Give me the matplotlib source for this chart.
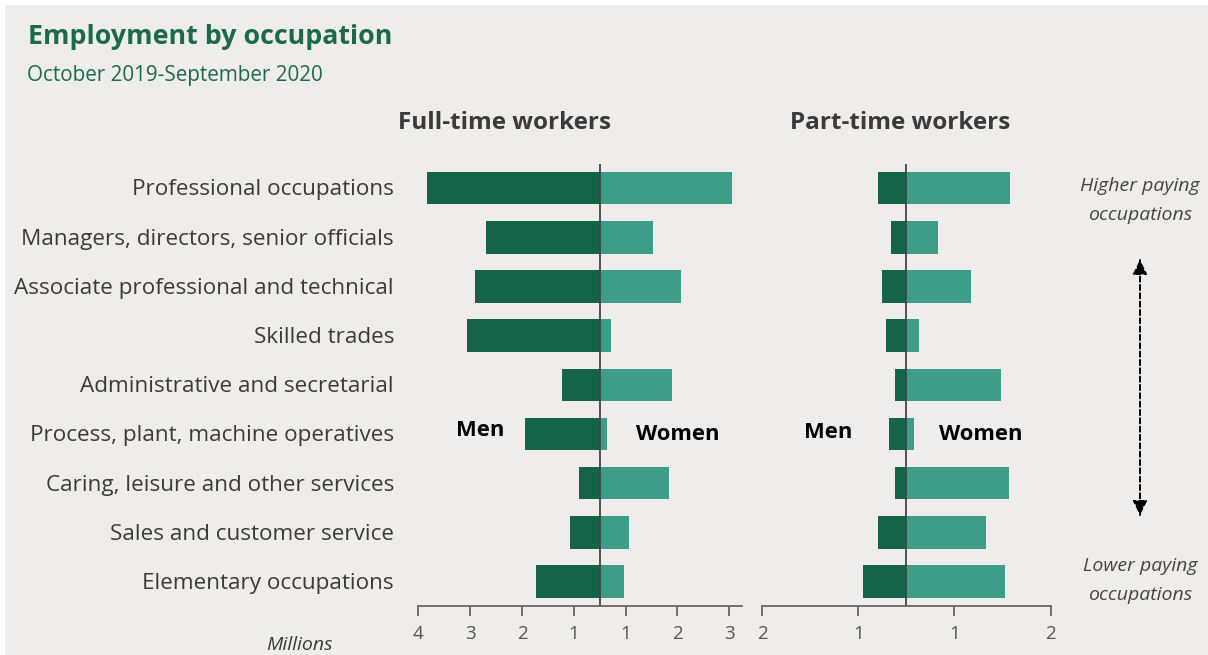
import numpy as np
import matplotlib.pyplot as plt
from matplotlib.patches import Rectangle, FancyArrowPatch

# data (millions)
occupations = ["Professional occupations", "Managers, directors, senior officials",
               "Associate professional and technical", "Skilled trades",
               "Administrative and secretarial", "Process, plant, machine operatives",
               "Caring, leisure and other services", "Sales and customer service",
               "Elementary occupations"]
ft_men = [3.33, 2.20, 2.41, 2.57, 0.72, 1.44, 0.41, 0.57, 1.23]
ft_women = [2.55, 1.02, 1.57, 0.22, 1.39, 0.14, 1.33, 0.57, 0.46]
pt_men = [0.29, 0.16, 0.25, 0.21, 0.12, 0.18, 0.12, 0.29, 0.45]
pt_women = [1.08, 0.33, 0.67, 0.13, 0.98, 0.08, 1.07, 0.83, 1.03]
ft_ticklabels = ["4", "3", "2", "1", "1", "2", "3"]
pt_ticklabels = ["2", "1", "1", "2"]

bg = "#efedeb"
men_col = "#156349"
women_col = "#3e9d88"
green_txt = "#1b6a4b"
grey_txt = "#3a3a3a"

plt.rcParams['font.family'] = ['Open Sans', 'DejaVu Sans']

W, H = 1208, 655
fig = plt.figure(figsize=(W / 100, H / 100), dpi=100)
fig.patch.set_facecolor("white")
fig.patches.append(Rectangle((5 / W, 0), 1, 1 - 5 / H, transform=fig.transFigure,
                             facecolor=bg, edgecolor="none", zorder=-10))


def fx(px):
    return px / W


def fy(py):
    return 1 - py / H


y = np.arange(len(occupations))
ax1 = fig.add_axes([0.346, 0.0753, 0.268, 0.6743])
ax2 = fig.add_axes([0.6308, 0.0753, 0.239, 0.6743])


def panel(ax, men, women, xlim, ticks, labels):
    ax.set_facecolor("none")
    ax.barh(y, [-m for m in men], height=0.66, color=men_col)
    ax.barh(y, women, height=0.66, color=women_col)
    ax.axvline(0, color="#444444", lw=1.3)
    ax.set_xlim(xlim)
    ax.set_ylim(8.49, -0.49)
    for s in ["top", "right", "left"]:
        ax.spines[s].set_visible(False)
    ax.spines["bottom"].set_color("#666666")
    ax.spines["bottom"].set_linewidth(1.3)
    ax.set_xticks(ticks)
    ax.set_xticklabels(labels)
    ax.tick_params(axis="x", length=7, width=1.3, color="#666666", labelsize=13.5,
                   labelcolor="#555555", pad=7)
    ax.set_yticks([])


panel(ax1, ft_men, ft_women, (-3.51, 2.74), [-3.5, -2.5, -1.5, -0.5, 0.5, 1.5, 2.5], ft_ticklabels)
panel(ax2, pt_men, pt_women, (-1.495, 1.5), [-1.5, -0.5, 0.5, 1.5], pt_ticklabels)

for i, name in enumerate(occupations):
    fig.text(fx(394), fy(190 + 49.2 * i), name, ha="right", va="center",
             fontsize=16.2, color=grey_txt)

fig.text(fx(28), fy(37), "Employment by occupation", fontsize=19.3,
         fontweight="bold", color=green_txt, va="center")
fig.text(fx(27), fy(76), "October 2019-September 2020", fontsize=14.9,
         color=green_txt, va="center")

fig.text(fx(504), fy(123), "Full-time workers", fontsize=17.5, fontweight="bold",
         color=grey_txt, ha="center", va="center")
fig.text(fx(900), fy(123), "Part-time workers", fontsize=17.5, fontweight="bold",
         color=grey_txt, ha="center", va="center")

fig.text(fx(480), fy(430), "Men", fontsize=15.8, fontweight="bold", ha="center", va="center")
fig.text(fx(678), fy(435), "Women", fontsize=15.8, fontweight="bold", ha="center", va="center")
fig.text(fx(828), fy(433), "Men", fontsize=15.8, fontweight="bold", ha="center", va="center")
fig.text(fx(981), fy(434), "Women", fontsize=15.8, fontweight="bold", ha="center", va="center")

fig.text(fx(299), fy(645), "Millions", fontsize=14, style="italic", color=grey_txt,
         ha="center", va="center")

for txt, py in [("Higher paying", 186), ("occupations", 215),
                ("Lower paying", 566), ("occupations", 595)]:
    fig.text(fx(1140), fy(py), txt, fontsize=14, style="italic", color="#444444",
             ha="center", va="center")

for a, b in [(257, 518), (518, 257)]:
    fig.patches.append(FancyArrowPatch(
        (fx(1140), fy(a)), (fx(1140), fy(b)), transform=fig.transFigure,
        arrowstyle="-|>,head_length=9,head_width=4.5", linestyle=(0, (3, 2)),
        lw=1.2, color="black"))

fig.savefig("out.png", dpi=100, facecolor=fig.get_facecolor())
